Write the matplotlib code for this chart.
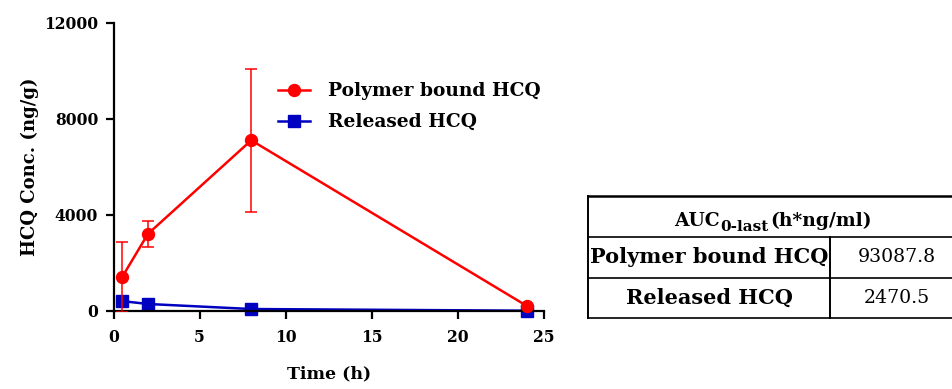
import matplotlib
matplotlib.use('Agg')
import matplotlib.pyplot as plt
from matplotlib.lines import Line2D

# ---- data ----
time_h = [0.5, 2, 8, 24]
polymer_bound = [1400, 3200, 7100, 200]
polymer_err = [1450, 530, 2990, 0]
released = [400, 280, 70, 0]
series_labels = ['Polymer bound HCQ', 'Released HCQ']
x_ticks = [0, 5, 10, 15, 20, 25]
y_ticks = [0, 4000, 8000, 12000]
auc_header = ('AUC', '0-last', '(h*ng/ml)')
auc_rows = ['Polymer bound HCQ', 'Released HCQ']
auc_values = ['93087.8', '2470.5']

plt.rcParams['font.family'] = ['DejaVu Serif']
RED = '#ff0000'
BLUE = '#0000c0'

W, H = 952, 389
fig = plt.figure(figsize=(W / 100, H / 100), dpi=100)
ax = fig.add_axes([113.5 / W, 1 - 310.7 / H, (544 - 113.5) / W, (310.7 - 22.7) / H])

# released
ax.plot(time_h, released, marker='s', ms=8.5, lw=1.8, color=BLUE,
        clip_on=False, zorder=2, label=series_labels[1])
# polymer bound
ax.errorbar(time_h, polymer_bound, yerr=polymer_err, fmt='none', ecolor=RED,
            elinewidth=1.1, capsize=4, capthick=1.1, zorder=3)
ax.plot(time_h, polymer_bound, marker='o', ms=8.6, lw=1.8, color=RED,
        clip_on=False, zorder=4, label=series_labels[0])

ax.set_xlim(0, 25)
ax.set_ylim(0, 12000)
ax.set_xticks(x_ticks)
ax.set_yticks(y_ticks)
for s in ['top', 'right']:
    ax.spines[s].set_visible(False)
for s in ['left', 'bottom']:
    ax.spines[s].set_linewidth(1.6)
ax.tick_params(direction='out', length=6, width=1.6, labelsize=11.2, pad=5)
for lab in ax.get_xticklabels() + ax.get_yticklabels():
    lab.set_fontweight('bold')
ax.xaxis.set_tick_params(pad=7)

ax.set_xlabel('Time (h)', fontsize=12.5, fontweight='bold', labelpad=14)
ax.set_ylabel('HCQ Conc. (ng/g)', fontsize=13, fontweight='bold', labelpad=4)

h, l = ax.get_legend_handles_labels()
leg = ax.legend([h[1], h[0]], [l[1], l[0]], loc='center left',
                bbox_to_anchor=(278 / W, 1 - 106.7 / H), bbox_transform=fig.transFigure,
                frameon=False, borderpad=0, borderaxespad=0, handlelength=1.72,
                handletextpad=0.98, labelspacing=0.68,
                prop={'family': 'DejaVu Serif', 'weight': 'bold', 'size': 13.4})

# ---- AUC table ----
tL, tD, tR = 588.3, 830, 964
tY = [196, 236.7, 277.7, 317.7]
fx = lambda px: px / W
fy = lambda py: 1 - py / H
fig.add_artist(Line2D([fx(tL), fx(tR)], [fy(tY[0]), fy(tY[0])], color='black', lw=1.8))
for yy in tY[1:]:
    fig.add_artist(Line2D([fx(tL), fx(tR)], [fy(yy), fy(yy)], color='black', lw=1.2))
fig.add_artist(Line2D([fx(tL), fx(tL)], [fy(tY[0]), fy(tY[3])], color='black', lw=1.4))
fig.add_artist(Line2D([fx(tD), fx(tD)], [fy(tY[1]), fy(tY[3])], color='black', lw=1.4))
fig.add_artist(Line2D([fx(tR), fx(tR)], [fy(tY[0]), fy(tY[3])], color='black', lw=1.4))

# header composed of pieces: (text, size, baseline px, gap after px)
renderer = fig.canvas.get_renderer()
parts = [(auc_header[0], 13.5, 225.5, 0), (auc_header[1], 11.0, 231, 2),
         (auc_header[2], 13.5, 225.5, 0)]
widths = []
for txt, sz, base, gap in parts:
    t = fig.text(0, 0, txt, fontsize=sz, fontweight='bold')
    widths.append(t.get_window_extent(renderer).width + gap)
    t.remove()
x0 = (tL + tR) / 2 - sum(widths) / 2 - 3
for (txt, sz, base, gap), w in zip(parts, widths):
    fig.text(fx(x0), fy(base), txt, fontsize=sz, fontweight='bold',
             ha='left', va='baseline')
    x0 += w

for i, (name, val) in enumerate(zip(auc_rows, auc_values)):
    yc = fy((tY[i + 1] + tY[i + 2]) / 2)
    fig.text(fx((tL + tD) / 2), yc, name, fontsize=15.0, fontweight='bold',
             ha='center', va='center')
    fig.text(fx((tD + tR) / 2), yc, val, fontsize=13.6, ha='center', va='center')

fig.savefig('out.png', dpi=100)
